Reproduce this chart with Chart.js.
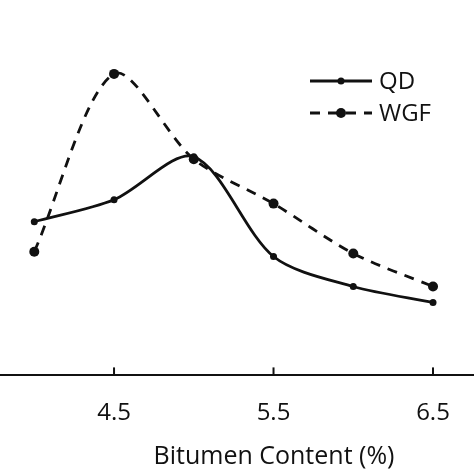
<!DOCTYPE html>
<html>
<head>
<meta charset="utf-8">
<script src="https://cdn.jsdelivr.net/npm/chart.js@4"></script>
<style>
    html, body { margin: 0; padding: 0; background: #fff; overflow: hidden; }
    #frame { width: 474px; height: 474px; overflow: hidden; position: relative; }
    #wrap { width: 548px; height: 474px; position: absolute; left: 0; top: 0; }
</style>
</head>
<body>
<div id="frame"><div id="wrap"><canvas id="bitumenChart"></canvas></div></div>
<script>
// Data
const bitumenContent = [4.0, 4.5, 5.0, 5.5, 6.0, 6.5];
const qdValues = [51.2, 58.5, 72.8, 39.6, 29.6, 24.3];
const wgfValues = [41.2, 100.4, 72.0, 57.2, 40.6, 29.6];
const xTickValues = [4.5, 5.5, 6.5];
const seriesNames = ['QD', 'WGF'];
const xTitle = 'Bitumen Content (%)';

const FONT = "'Open Sans', 'DejaVu Sans', sans-serif";

const toPoints = (values) => values.map((v, i) => ({ x: bitumenContent[i], y: v }));

// Draws short tick marks pointing into the plot area
const innerTicks = {
    id: 'innerTicks',
    afterDraw(chart) {
        const { ctx, chartArea, scales } = chart;
        const xScale = scales.x;
        ctx.save();
        ctx.strokeStyle = '#111';
        ctx.lineWidth = 2;
        xScale.ticks.forEach(t => {
            const px = xScale.getPixelForValue(t.value);
            ctx.beginPath();
            ctx.moveTo(px, chartArea.bottom);
            ctx.lineTo(px, chartArea.bottom - 8);
            ctx.stroke();
        });
        ctx.restore();
    }
};

// Legend with line + marker samples, placed near the top right
const lineLegend = {
    id: 'lineLegend',
    afterDraw(chart) {
        const { ctx } = chart;
        const x0 = 310;
        const x1 = 372;
        const rows = [81, 113];
        ctx.save();
        chart.data.datasets.forEach((ds, i) => {
            const y = rows[i];
            ctx.strokeStyle = ds.borderColor;
            ctx.lineWidth = ds.borderWidth;
            ctx.setLineDash(ds.borderDash || []);
            ctx.beginPath();
            ctx.moveTo(x0, y);
            ctx.lineTo(x1, y);
            ctx.stroke();
            ctx.setLineDash([]);
            ctx.fillStyle = ds.pointBackgroundColor;
            ctx.beginPath();
            ctx.arc((x0 + x1) / 2, y, ds.pointRadius, 0, Math.PI * 2);
            ctx.fill();
            ctx.fillStyle = '#111';
            ctx.font = `24px ${FONT}`;
            ctx.textBaseline = 'middle';
            ctx.fillText(ds.label, x1 + 7, y + 1);
        });
        ctx.restore();
    }
};

const chart = new Chart(document.getElementById('bitumenChart'), {
    type: 'line',
    data: {
        datasets: [{
            label: seriesNames[0],
            data: toPoints(qdValues),
            borderColor: '#111',
            borderWidth: 2.8,
            tension: 0.3,
            pointRadius: 3.5,
            pointBackgroundColor: '#111',
            pointBorderWidth: 0
        }, {
            label: seriesNames[1],
            data: toPoints(wgfValues),
            borderColor: '#111',
            borderWidth: 2.8,
            borderDash: [10, 8],
            tension: 0.3,
            pointRadius: 5,
            pointBackgroundColor: '#111',
            pointBorderWidth: 0
        }]
    },
    options: {
        responsive: true,
        maintainAspectRatio: false,
        animation: false,
        layout: { padding: 0, autoPadding: false },
        scales: {
            x: {
                type: 'linear',
                min: 3.785,
                max: 7.221,
                afterBuildTicks: (axis) => {
                    axis.ticks = xTickValues.map(v => ({ value: v }));
                },
                grid: { display: true, drawOnChartArea: false, drawTicks: false },
                border: { display: true, color: '#111', width: 2 },
                ticks: {
                    padding: 23.6,
                    color: '#111',
                    font: { family: FONT, size: 24 },
                    callback: (v) => Number(v).toFixed(1)
                },
                title: {
                    display: true,
                    text: xTitle,
                    color: '#111',
                    font: { family: FONT, size: 25 },
                    padding: { top: -10, bottom: 2.6 }
                }
            },
            y: {
                display: false,
                min: 0,
                max: 125
            }
        },
        plugins: {
            legend: { display: false },
            tooltip: { enabled: false }
        }
    },
    plugins: [innerTicks, lineLegend]
});
</script>
</body>
</html>
